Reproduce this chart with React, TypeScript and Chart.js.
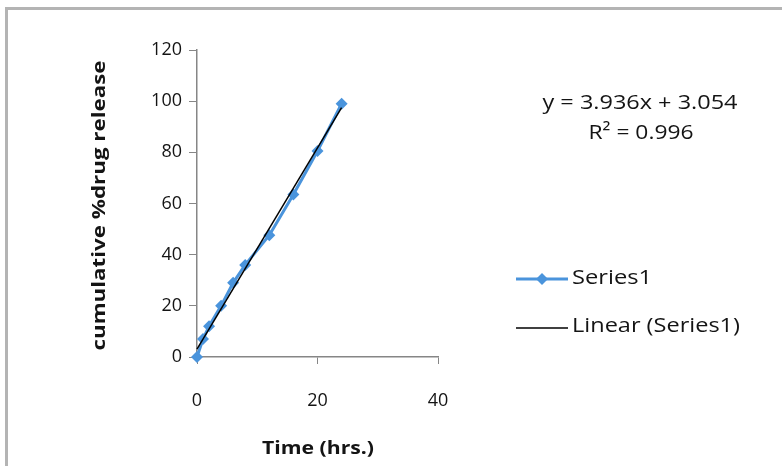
import React, { useEffect, useRef } from "react";
import { Chart, registerables } from "chart.js";

Chart.register(...registerables);

const timeHrs = [0, 1, 2, 4, 6, 8, 12, 16, 20, 24];
const release = [0, 7, 12, 20, 29, 36, 47.6, 63.5, 80.5, 99];
const trendSlope = 3.936;
const trendIntercept = 3.054;
const trendRange = [0, 24];
const xTicks = [0, 20, 40];
const yTicks = [0, 20, 40, 60, 80, 100, 120];
const equationLabel = "y = 3.936x + 3.054";
const r2Label = "R² = 0.996";
const seriesName = "Series1";
const trendName = "Linear (Series1)";
const xTitle = "Time (hrs.)";
const yTitle = "cumulative %drug release";

const FONT = "'Open Sans', Lato, sans-serif";
const BLUE = "#4a94dc";
const TEXT = "#141414";

function fitText(
  ctx: CanvasRenderingContext2D,
  text: string,
  x: number,
  y: number,
  width: number,
  align: "left" | "center",
  font: string
) {
  ctx.save();
  ctx.font = font;
  ctx.textBaseline = "middle";
  ctx.textAlign = "left";
  const w = ctx.measureText(text).width;
  const s = width / w;
  const left = align === "center" ? x - width / 2 : x;
  ctx.translate(left, y);
  ctx.scale(s, 1);
  ctx.fillText(text, 0, 0);
  ctx.restore();
}

export default function App() {
  const ref = useRef<HTMLCanvasElement>(null);
  useEffect(() => {
    document.body.style.margin = "0";
    const canvas = ref.current!;
    const points = timeHrs.map((x, i) => ({ x, y: release[i] }));
    const trend = trendRange.map((x) => ({ x, y: trendSlope * x + trendIntercept }));

    const overlay = {
      id: "overlay",
      beforeDraw(chart: any) {
        const ctx = chart.ctx;
        ctx.save();
        ctx.fillStyle = "#fff";
        ctx.fillRect(0, 0, chart.width, chart.height);
        ctx.fillStyle = "#b4b4b4";
        ctx.fillRect(5, 7, chart.width - 5, 3);
        ctx.fillRect(5, 7, 3, chart.height - 7);
        ctx.restore();
      },
      afterDraw(chart: any) {
        const ctx = chart.ctx;
        const a = chart.chartArea;
        ctx.save();
        ctx.fillStyle = TEXT;
        const reg = `500 20px ${FONT}`;
        const bold = `bold 18px ${FONT}`;
        fitText(ctx, equationLabel, a.right + 202, a.top + 53, 195, "center", reg);
        fitText(ctx, r2Label, a.right + 203, a.top + 83, 105, "center", reg);
        fitText(ctx, xTitle, (a.left + a.right) / 2 + 0.5, 449, 112, "center", bold);
        // y title
        ctx.save();
        ctx.translate(100, (a.top + a.bottom) / 2 + 2);
        ctx.rotate(-Math.PI / 2);
        fitText(ctx, yTitle, 0, 0, 290, "center", bold);
        ctx.restore();
        // legend
        const lx = a.right + 78;
        const y1 = 279;
        const y2 = 326;
        ctx.strokeStyle = BLUE;
        ctx.lineWidth = 3;
        ctx.beginPath();
        ctx.moveTo(lx, y1);
        ctx.lineTo(lx + 52, y1);
        ctx.stroke();
        ctx.fillStyle = BLUE;
        ctx.beginPath();
        const cx = lx + 26;
        ctx.moveTo(cx, y1 - 6);
        ctx.lineTo(cx + 6, y1);
        ctx.lineTo(cx, y1 + 6);
        ctx.lineTo(cx - 6, y1);
        ctx.closePath();
        ctx.fill();
        ctx.strokeStyle = "#000";
        ctx.lineWidth = 1.5;
        ctx.beginPath();
        ctx.moveTo(lx, y2 + 2);
        ctx.lineTo(lx + 52, y2 + 2);
        ctx.stroke();
        ctx.fillStyle = TEXT;
        fitText(ctx, seriesName, lx + 56, y1 - 1, 80, "left", reg);
        fitText(ctx, trendName, lx + 56, y2, 168, "left", reg);
        ctx.restore();
      },
    };

    const chart = new Chart(canvas, {
      type: "scatter",
      data: {
        datasets: [
          {
            label: seriesName,
            data: points,
            showLine: true,
            borderColor: BLUE,
            backgroundColor: BLUE,
            borderWidth: 3,
            pointStyle: "rectRot",
            pointRadius: 6,
            pointBorderWidth: 0,
            clip: false,
            order: 2,
          },
          {
            label: trendName,
            data: trend,
            showLine: true,
            borderColor: "#000",
            borderWidth: 1.5,
            pointRadius: 0,
            clip: false,
            order: 1,
          },
        ],
      },
      options: {
        responsive: false,
        animation: false,
        layout: { padding: { top: 50, right: 344, left: 0, bottom: 0 } },
        plugins: { legend: { display: false }, tooltip: { enabled: false } },
        scales: {
          x: {
            type: "linear",
            min: 0,
            max: 40,
            afterBuildTicks: (s: any) => {
              s.ticks = xTicks.map((v) => ({ value: v }));
            },
            afterFit: (s: any) => {
              s.height = 109;
            },
            grid: { drawOnChartArea: false, drawTicks: true, tickLength: 7, color: "#868686" },
            border: { color: "#868686", width: 1.5 },
            ticks: { padding: 26, color: TEXT, font: { family: FONT, size: 18, weight: "500" } },
          },
          y: {
            type: "linear",
            min: 0,
            max: 120,
            afterBuildTicks: (s: any) => {
              s.ticks = yTicks.map((v) => ({ value: v }));
            },
            afterFit: (s: any) => {
              s.width = 197;
            },
            grid: { drawOnChartArea: false, drawTicks: true, tickLength: 8, color: "#868686" },
            border: { color: "#868686", width: 1.5 },
            ticks: { padding: 7, color: TEXT, font: { family: FONT, size: 18, weight: "500" } },
          },
        },
      },
      plugins: [overlay],
    });
    return () => chart.destroy();
  }, []);
  return (
    <div style={{ width: 782, height: 466 }}>
      <canvas ref={ref} width={782} height={466} />
    </div>
  );
}
